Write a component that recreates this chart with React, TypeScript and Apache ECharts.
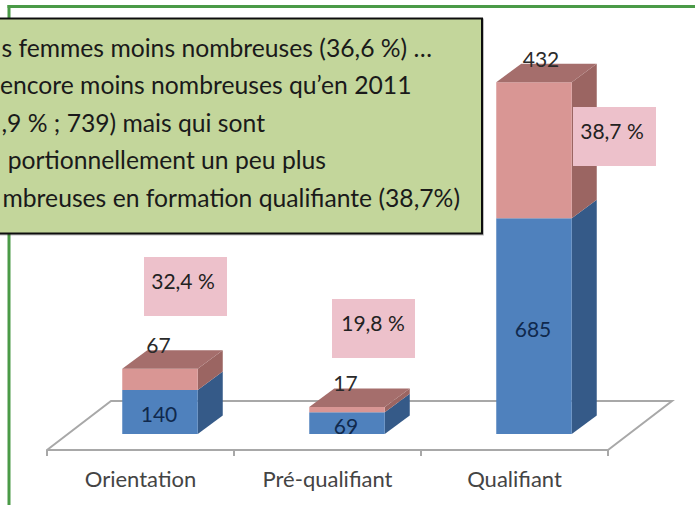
import React, { useEffect, useRef } from "react";
import * as echarts from "echarts";

const categories = ["Orientation", "Pré-qualifiant", "Qualifiant"];
const blueValues = [140, 69, 685];
const redValues = [67, 17, 432];
const shareLabels = ["32,4 %", "19,8 %", "38,7 %"];
const noteLines = [
  "s femmes moins nombreuses (36,6 %) …",
  "encore moins nombreuses qu’en 2011",
  ",9 % ; 739) mais qui sont",
  "portionnellement un peu plus",
  "mbreuses en formation qualifiante (38,7%)",
];

const FONT = "Lato, 'Noto Sans', sans-serif";
const GRID = { left: 47, top: 72, width: 561, height: 378 };
const FLOOR = { dx: 64, dy: -49 };
const OFFSET = { dx: 19.5, dy: -16 };
const DEPTH = { dx: 25, dy: -18.5 };
const BAR_WIDTH = 75.5;
const NOTE_END_X = [432, 411.5, 265, 326, 460];

function makeRender(front: string, side: string, top: string, isUpper: boolean) {
  return (params: any, api: any) => {
    const idx = api.value(0);
    const base = api.value(1);
    const val = api.value(2);
    const p0 = api.coord([idx, base]);
    const p1 = api.coord([idx, base + val]);
    const x0 = p0[0] + OFFSET.dx - BAR_WIDTH / 2;
    const x1 = x0 + BAR_WIDTH;
    const yb = p0[1] + OFFSET.dy;
    const yt = p1[1] + OFFSET.dy;
    const d = DEPTH;
    const children: any[] = [
      { type: "polygon", shape: { points: [[x1, yb], [x1 + d.dx, yb + d.dy], [x1 + d.dx, yt + d.dy], [x1, yt]] }, style: { fill: side } },
      { type: "rect", shape: { x: x0, y: yt, width: BAR_WIDTH, height: yb - yt }, style: { fill: front } },
    ];
    if (isUpper) {
      children.push({ type: "polygon", shape: { points: [[x0, yt], [x1, yt], [x1 + d.dx, yt + d.dy], [x0 + d.dx, yt + d.dy]] }, style: { fill: top } });
      children.push({
        type: "text",
        style: {
          text: String(val),
          x: (x0 + x1) / 2 + (idx === 2 ? 7 : -1.5),
          y: yt - 24,
          align: "center",
          verticalAlign: "middle",
          font: `21px ${FONT}`,
          fill: "#2a2a2a",
        },
      });
    } else {
      children.push({
        type: "text",
        style: {
          text: String(val),
          x: (x0 + x1) / 2 - 1,
          y: (yt + yb) / 2 + 2,
          align: "center",
          verticalAlign: "middle",
          font: `21px ${FONT}`,
          fill: "#10294d",
        },
      });
    }
    return { type: "group", children };
  };
}

export default function App() {
  const ref = useRef<HTMLDivElement>(null);
  useEffect(() => {
    const chart = echarts.init(ref.current!, undefined, { renderer: "svg" });
    const gridBottom = GRID.top + GRID.height;
    const gridRight = GRID.left + GRID.width;
    const boxes = [
      { x: 144, y: 257, cx: 183, cy: 280 },
      { x: 332, y: 299, cx: 373, cy: 322 },
      { x: 573, y: 107, cx: 612, cy: 130 },
    ];
    const graphicElements: any[] = [
      { type: "rect", z: 1, shape: { x: 7.5, y: 5, width: 700, height: 3 }, style: { fill: "#4a9a47" } },
      { type: "rect", z: 1, shape: { x: 7.5, y: 5, width: 3, height: 510 }, style: { fill: "#4a9a47" } },
      {
        type: "polyline",
        z: 1,
        shape: {
          points: [
            [GRID.left, gridBottom],
            [GRID.left + FLOOR.dx, gridBottom + FLOOR.dy],
            [gridRight + FLOOR.dx, gridBottom + FLOOR.dy],
            [gridRight, gridBottom],
          ],
        },
        style: { stroke: "#a8a8a8", lineWidth: 2, fill: "none" },
      },
      ...boxes.flatMap((b, i) => [
        { type: "rect", z: 20, shape: { x: b.x, y: b.y, width: 83, height: 59 }, style: { fill: "#edc1cb" } },
        {
          type: "text",
          z: 21,
          style: { text: shareLabels[i], x: b.cx, y: b.cy, align: "center", verticalAlign: "middle", font: `21px ${FONT}`, fill: "#222" },
        },
      ]),
      {
        type: "rect",
        z: 30,
        shape: { x: -10, y: 18.5, width: 492, height: 215 },
        style: { fill: "#c3d69b", stroke: "#111", lineWidth: 2, shadowBlur: 1, shadowOffsetX: 1, shadowOffsetY: 1, shadowColor: "rgba(0,0,0,0.25)" },
      },
      ...noteLines.map((t, i) => ({
        type: "text",
        z: 31,
        style: { text: t, x: NOTE_END_X[i], y: 47 + i * 37.5, align: "right", verticalAlign: "middle", font: `24.7px ${FONT}`, fill: "#1a1a1a" },
      })),
    ];
    chart.setOption({
      animation: false,
      backgroundColor: "#fff",
      grid: GRID,
      xAxis: {
        type: "category",
        data: categories,
        axisLine: { show: true, lineStyle: { color: "#a8a8a8", width: 2 } },
        axisTick: { show: true, length: 6, alignWithLabel: false, lineStyle: { color: "#a8a8a8", width: 2 } },
        axisLabel: { color: "#444", fontFamily: FONT, fontSize: 22, margin: 17, interval: 0 },
      },
      yAxis: { type: "value", min: 0, max: 1200, show: false },
      graphic: { elements: graphicElements },
      series: [
        {
          type: "custom",
          z: 5,
          renderItem: makeRender("#4f81bd", "#355a88", "#355a88", false),
          data: blueValues.map((v, i) => [i, 0, v]),
          encode: { x: 0, y: [1, 2] },
        },
        {
          type: "custom",
          z: 6,
          renderItem: makeRender("#d99694", "#9b6562", "#a56e6c", true),
          data: redValues.map((v, i) => [i, blueValues[i], v]),
          encode: { x: 0, y: [1, 2] },
        },
      ],
    });
    return () => chart.dispose();
  }, []);
  return <div ref={ref} style={{ position: "absolute", left: 0, top: 0, width: 695, height: 505 }} />;
}
